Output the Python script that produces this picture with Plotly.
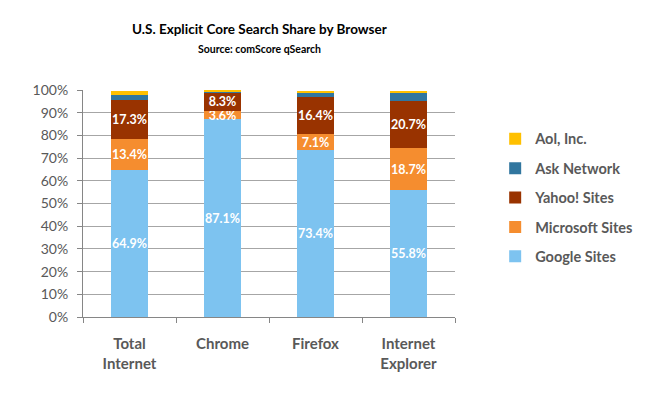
import plotly.graph_objects as go

categories = ["Total<br>Internet", "Chrome", "Firefox", "Internet<br>Explorer"]
google = [64.9, 87.1, 73.4, 55.8]
microsoft = [13.4, 3.6, 7.1, 18.7]
yahoo = [17.3, 8.3, 16.4, 20.7]
ask = [2.3, 0.4, 2.0, 3.6]
aol = [1.7, 0.2, 0.7, 0.8]

series = [
    ("Google Sites", google, "#7DC3F0", True),
    ("Microsoft Sites", microsoft, "#F58D2F", True),
    ("Yahoo! Sites", yahoo, "#993300", True),
    ("Ask Network", ask, "#31769F", False),
    ("Aol, Inc.", aol, "#FFC000", False),
]

fig = go.Figure()
for i, (name, vals, color, labeled) in enumerate(series):
    fig.add_trace(go.Bar(
        x=categories, y=vals, name=name, legendgroup=name,
        legendrank=len(series) - i,
        marker=dict(color=color, line=dict(width=0)),
        text=[f"{v:.1f}%" for v in vals] if labeled else None,
        textposition="inside" if labeled else "none",
        insidetextanchor="middle",
        textangle=0,
        textfont=dict(color="white", size=12.5, family="Lato", weight="bold"),
        width=0.4,
        hoverinfo="skip",
    ))

fig.update_layout(
    barmode="stack",
    width=642, height=389,
    margin=dict(l=75, r=190, t=82, b=80),
    paper_bgcolor="white", plot_bgcolor="white",
    font=dict(family="Lato", color="#595959"),
    uniformtext=dict(minsize=12.5, mode="show"),
    legend=dict(
        x=1.108, xanchor="left", y=0.855, yanchor="top",
        traceorder="grouped", tracegroupgap=7.5,
        font=dict(size=14.5, color="#595959", family="Lato", weight="bold"),
        itemwidth=30,
    ),
    showlegend=True,
    annotations=[
        dict(text="<b>U.S. Explicit Core Search Share by Browser</b>",
             x=0.474, y=1.269, xref="paper", yref="paper",
             xanchor="center", yanchor="middle", showarrow=False,
             font=dict(size=13.5, color="black", family="Lato")),
        dict(text="<b>Source: comScore qSearch</b>",
             x=0.474, y=1.181, xref="paper", yref="paper",
             xanchor="center", yanchor="middle", showarrow=False,
             font=dict(size=10.5, color="black", family="Lato")),
    ],
)
fig.update_xaxes(
    showline=True, linecolor="#868686", linewidth=1,
    ticks="outside", tickson="boundaries", ticklen=5, tickcolor="#868686",
    ticklabelstandoff=13,
    tickfont=dict(size=15, color="#595959", family="Lato", weight="bold"),
)
fig.update_yaxes(
    range=[0, 100], dtick=10, ticksuffix="%",
    showline=True, linecolor="#868686", linewidth=1,
    ticks="outside", ticklen=5, tickcolor="#868686",
    ticklabelstandoff=6,
    showgrid=True, gridcolor="#A6A6A6", gridwidth=1,
    tickfont=dict(size=14, color="#595959", family="Lato"),
    zeroline=False,
)

fig.write_html("out.html")
